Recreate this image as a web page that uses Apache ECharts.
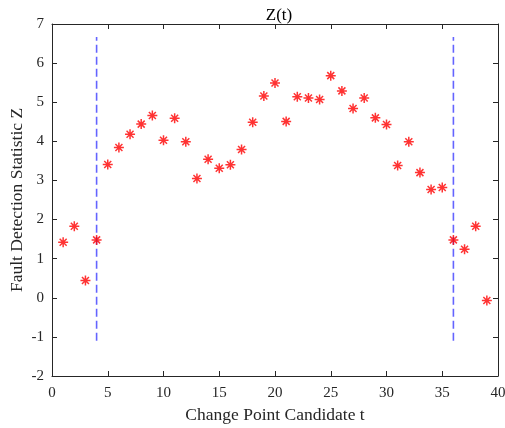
<!DOCTYPE html>
<html><head><meta charset="utf-8">
<script src="https://cdn.jsdelivr.net/npm/echarts@6/dist/echarts.min.js"></script>
<style>html,body{margin:0;padding:0;background:#fff}#c{width:505px;height:428px}</style>
</head><body><div id="c"></div>
<script>
const tValues = [1,2,3,4,5,6,7,8,9,10,11,12,13,14,15,16,17,18,19,20,21,22,23,24,25,26,27,28,29,30,31,32,33,34,35,36,37,38,39];
const zValues = [1.42,1.83,0.44,1.48,3.41,3.84,4.18,4.44,4.66,4.03,4.59,3.99,3.05,3.54,3.31,3.40,3.79,4.49,5.16,5.49,4.51,5.14,5.11,5.07,5.68,5.29,4.84,5.11,4.60,4.43,3.38,3.99,3.20,2.77,2.82,1.48,1.24,1.83,-0.07];
const changeLineLeft = [[4,-1.1],[4,6.67]];
const changeLineRight = [[36,-1.1],[36,6.67]];
const xTicks = {min:0,max:40,interval:5};
const yTicks = {min:-2,max:7,interval:1};

const font = 'Liberation Serif, Times New Roman, serif';
const ink = '#262626';
const chart = echarts.init(document.getElementById('c'), null, {renderer:'canvas'});
const axisBase = {
  axisLine:{show:true,onZero:false,lineStyle:{color:ink,width:1}},
  axisTick:{show:true,inside:true,length:5,lineStyle:{color:ink}},
  splitLine:{show:false},
  nameMoveOverlap:false,
  nameTextStyle:{fontFamily:font,fontSize:17.5,color:ink}
};
const star = 'path://M0,-10L0,10M-10,0L10,0M-7,-7L7,7M-7,7L7,-7';
chart.setOption({
  animation:false,
  backgroundColor:'#fff',
  title:{text:'Z(t)',left:274,top:2,textAlign:'center',textStyle:{fontFamily:font,fontSize:17,fontWeight:'normal',color:'#000'}},
  grid:{left:52,right:7,top:24,bottom:52,containLabel:false,outerBoundsMode:'none'},
  xAxis:[
    Object.assign({type:'value',position:'bottom',min:xTicks.min,max:xTicks.max,interval:xTicks.interval,
      name:'Change Point Candidate t',nameLocation:'middle',nameGap:30,
      axisLabel:{fontFamily:font,fontSize:15,color:ink,margin:10}},axisBase),
    Object.assign({type:'value',position:'top',min:xTicks.min,max:xTicks.max,interval:xTicks.interval,
      axisLabel:{show:false}},axisBase)
  ],
  yAxis:[
    Object.assign({type:'value',position:'left',min:yTicks.min,max:yTicks.max,interval:yTicks.interval,
      name:'Fault Detection Statistic Z',nameLocation:'middle',nameGap:26,
      axisLabel:{fontFamily:font,fontSize:15,color:ink,margin:8}},axisBase),
    Object.assign({type:'value',position:'right',min:yTicks.min,max:yTicks.max,interval:yTicks.interval,
      axisLabel:{show:false}},axisBase)
  ],
  series:[
    {type:'line',data:changeLineLeft,symbol:'none',lineStyle:{color:'#6464ff',width:1.6,type:[8,4]},z:1},
    {type:'line',data:changeLineRight,symbol:'none',lineStyle:{color:'#6464ff',width:1.6,type:[8,4]},z:1},
    {type:'scatter',data:tValues.map((t,i)=>[t,zValues[i]]),symbol:star,symbolSize:10,
      itemStyle:{color:'rgba(255,0,0,0)',borderColor:'#ff0000',borderWidth:1.5},z:3}
  ]
});
</script></body></html>
